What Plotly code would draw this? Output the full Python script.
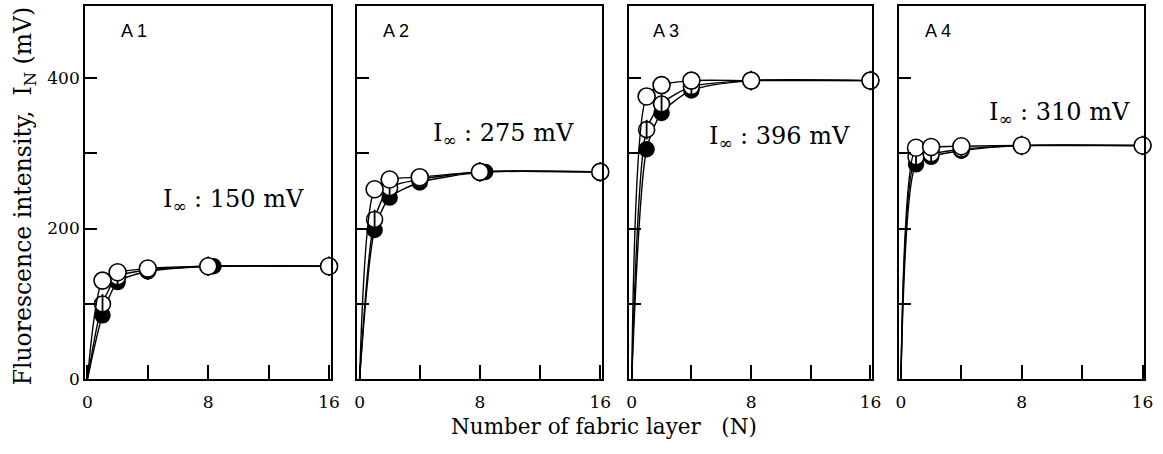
import plotly.graph_objects as go

# Fluorescence intensity I_N (mV) against number of fabric layers N,
# four fabrics A1-A4, three sample series each.
layers = [0, 1, 2, 4, 8, 16]
panel_names = ["A 1", "A 2", "A 3", "A 4"]
i_inf = [150, 275, 396, 310]

open_a1 = [0, 131, 142, 147, 150, 150]
half_a1 = [0, 100, 136, 145, 150, 150]
filled_a1 = [0, 85, 129, 143, 150, 150]
filled_x_a1 = [0, 1, 2, 4, 8.35, 16.35]

open_a2 = [0, 252, 265, 268, 275, 275]
half_a2 = [0, 212, 254, 265, 275, 275]
filled_a2 = [0, 198, 241, 261, 275, 275]
filled_x_a2 = [0, 1, 2, 4, 8.35, 16.35]

open_a3 = [0, 375, 390, 396, 396, 396]
half_a3 = [0, 331, 365, 388, 396, 396]
filled_a3 = [0, 305, 353, 383, 396, 396]
filled_x_a3 = [0, 1, 2, 4, 8, 16]

open_a4 = [0, 307, 308, 309, 310, 310]
half_a4 = [0, 295, 299, 305, 310, 310]
filled_a4 = [0, 285, 295, 303, 310, 310]
filled_x_a4 = [0, 1, 2, 4, 8, 16]

open_series = [open_a1, open_a2, open_a3, open_a4]
half_series = [half_a1, half_a2, half_a3, half_a4]
filled_series = [filled_a1, filled_a2, filled_a3, filled_a4]
filled_x = [filled_x_a1, filled_x_a2, filled_x_a3, filled_x_a4]

x_major = [0, 8, 16]
x_minor = [4, 12]
y_major = [0, 200, 400]
y_minor = [100, 300]

W, H = 1163, 454
panel_px = [(83, 331), (358, 605), (633, 878), (905, 1153)]
top_px, bottom_px = 6, 388
name_offset_px = [34, 24, 22, 25]
label_pos = [(9.7, 237), (9.6, 325), (9.9, 321), (10.5, 353)]

SERIF = "DejaVu Serif, Liberation Serif, serif"
SANS = "Liberation Sans, Arial, sans-serif"

fig = go.Figure()
annotations = []
line_style = dict(color="black", width=1.4, shape="spline", smoothing=0.7)

for i in range(4):
    xa = "x" if i == 0 else f"x{i+1}"
    ya = "y" if i == 0 else f"y{i+1}"

    # filled circles (drawn first, lowest layer)
    fig.add_trace(go.Scatter(
        x=filled_x[i], y=filled_series[i], xaxis=xa, yaxis=ya, mode="lines",
        line=line_style, showlegend=False, hoverinfo="skip"))
    fig.add_trace(go.Scatter(
        x=filled_x[i][1:], y=filled_series[i][1:], xaxis=xa, yaxis=ya, mode="markers",
        marker=dict(symbol="circle", size=15, color="black",
                    line=dict(color="black", width=1.5)),
        cliponaxis=False, showlegend=False, hoverinfo="skip"))
    # half-marked circles
    fig.add_trace(go.Scatter(
        x=layers, y=half_series[i], xaxis=xa, yaxis=ya, mode="lines",
        line=line_style, showlegend=False, hoverinfo="skip"))
    fig.add_trace(go.Scatter(
        x=layers[1:], y=half_series[i][1:], xaxis=xa, yaxis=ya, mode="markers",
        marker=dict(symbol="circle", size=16, color="white",
                    line=dict(color="black", width=1.6)),
        cliponaxis=False, showlegend=False, hoverinfo="skip"))
    fig.add_trace(go.Scatter(
        x=layers[1:], y=half_series[i][1:], xaxis=xa, yaxis=ya, mode="markers",
        marker=dict(symbol="line-ns", size=14, color="black",
                    line=dict(color="black", width=1.8)),
        cliponaxis=False, showlegend=False, hoverinfo="skip"))
    # open circles (top layer)
    fig.add_trace(go.Scatter(
        x=layers, y=open_series[i], xaxis=xa, yaxis=ya, mode="lines",
        line=line_style, showlegend=False, hoverinfo="skip"))
    fig.add_trace(go.Scatter(
        x=layers[1:], y=open_series[i][1:], xaxis=xa, yaxis=ya, mode="markers",
        marker=dict(symbol="circle", size=17, color="white",
                    line=dict(color="black", width=1.6)),
        cliponaxis=False, showlegend=False, hoverinfo="skip"))

    left, right = panel_px[i]
    xdom = [left / W, right / W]
    ydom = [1 - bottom_px / H, 1 - top_px / H]
    axis_common = dict(showline=True, mirror=True, linecolor="black", linewidth=2,
                       ticks="inside", tickcolor="black", tickwidth=1.5,
                       showgrid=False, zeroline=False,
                       tickfont=dict(family=SERIF, size=17, color="black"))
    fig.layout[f"xaxis{'' if i == 0 else i+1}"] = dict(
        domain=xdom, range=[-0.15, 16.1], anchor=ya,
        tickmode="array", tickvals=x_major, ticklen=14, ticklabelstandoff=6,
        minor=dict(tickmode="array", tickvals=x_minor, ticks="inside", ticklen=14,
                   tickwidth=1.5, tickcolor="black", showgrid=False),
        **axis_common)
    fig.layout[f"yaxis{'' if i == 0 else i+1}"] = dict(
        domain=ydom, range=[0, 495], anchor=xa,
        tickmode="array", tickvals=y_major, showticklabels=(i == 0),
        ticklen=12,
        minor=dict(tickmode="array", tickvals=y_minor, ticks="inside", ticklen=12,
                   tickwidth=1.5, tickcolor="black", showgrid=False),
        **axis_common)

    annotations.append(dict(
        text=panel_names[i], xref=f"{xa} domain", yref=f"{ya} domain",
        x=name_offset_px[i] / (right - left), y=1 - (32 - top_px) / (bottom_px - top_px),
        xanchor="left", yanchor="middle", showarrow=False,
        font=dict(family=SANS, size=18, color="black")))
    annotations.append(dict(
        text=f"I<sub>∞</sub> : {i_inf[i]} mV", xref=xa, yref=ya,
        x=label_pos[i][0], y=label_pos[i][1], xanchor="center", yanchor="middle",
        showarrow=False, font=dict(family=SERIF, size=24, color="black")))

annotations.append(dict(
    text="Fluorescence intensity,  I<sub>N</sub> (mV)", textangle=-90,
    xref="paper", yref="paper", x=22 / W, y=1 - 200 / H,
    xanchor="center", yanchor="middle", showarrow=False,
    font=dict(family=SERIF, size=23.5, color="black")))
annotations.append(dict(
    text="Number of fabric layer   (N)",
    xref="paper", yref="paper", x=607 / W, y=1 - 436 / H,
    xanchor="center", yanchor="middle", showarrow=False,
    font=dict(family=SERIF, size=21.5, color="black")))

fig.update_layout(
    width=W, height=H, margin=dict(l=0, r=0, t=0, b=0),
    paper_bgcolor="white", plot_bgcolor="white",
    annotations=annotations, showlegend=False)

fig.write_html("out.html")
